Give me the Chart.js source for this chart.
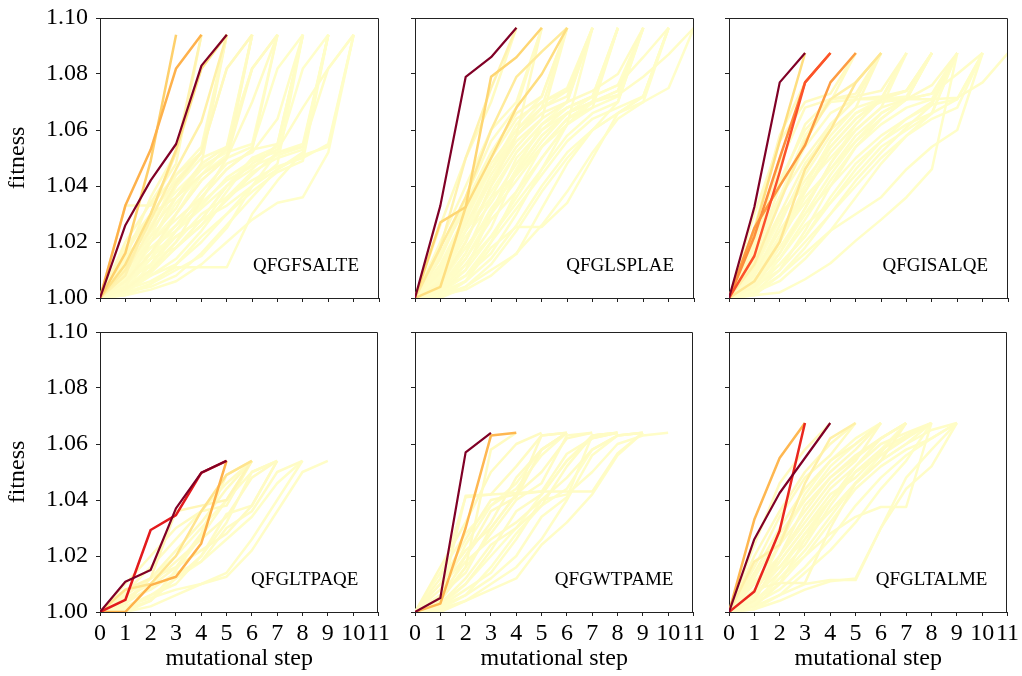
<!DOCTYPE html>
<html>
<head>
<meta charset="utf-8">
<script src="https://cdn.jsdelivr.net/npm/chart.js@4.4.1/dist/chart.umd.min.js"></script>
<style>
  html, body { margin: 0; padding: 0; background: #fff; }
  body { width: 1022px; height: 676px; position: relative; overflow: hidden; }
  .panel { position: absolute; }
</style>
</head>
<body>
<script>
// x axis steps and y ticks
const steps = [0, 1, 2, 3, 4, 5, 6, 7, 8, 9, 10, 11];
const fitnessTicks = [1.00, 1.02, 1.04, 1.06, 1.08, 1.10];
const panelLabels = ['QFGFSALTE', 'QFGLSPLAE', 'QFGISALQE', 'QFGLTPAQE', 'QFGWTPAME', 'QFGLTALME'];

// fitness along each trajectory (index = mutational step), weight = path weight
const pathsGFSALTE = [
  [1.000, 1.026, 1.042, 1.055, 1.083, 1.094],
  [1.000, 1.033, 1.053, 1.082, 1.094],
  [1.000, 1.016, 1.049, 1.094],
  [1.000, 1.012, 1.030, 1.053, 1.082, 1.094],
  [1.000, 1.010, 1.028, 1.046, 1.063, 1.094],
  [1.000, 1.008, 1.030, 1.052, 1.094],
  [1.000, 1.004, 1.010, 1.018, 1.026, 1.035, 1.044, 1.052, 1.054, 1.082, 1.094],
  [1.000, 1.002, 1.008, 1.012, 1.020, 1.030, 1.040, 1.048, 1.094],
  [1.000, 1.010, 1.020, 1.028, 1.036, 1.046, 1.053, 1.094],
  [1.000, 1.006, 1.016, 1.030, 1.042, 1.050, 1.094],
  [1.000, 1.014, 1.026, 1.040, 1.052, 1.094],
  [1.000, 1.020, 1.034, 1.048, 1.094],
  [1.000, 1.008, 1.018, 1.024, 1.032, 1.040, 1.050, 1.052, 1.055, 1.094],
  [1.000, 1.003, 1.006, 1.011, 1.011, 1.011, 1.030, 1.042, 1.052, 1.094],
  [1.000, 1.016, 1.030, 1.036, 1.044, 1.050, 1.082, 1.094],
  [1.000, 1.005, 1.014, 1.024, 1.033, 1.043, 1.049, 1.053, 1.094],
  [1.000, 1.012, 1.022, 1.032, 1.048, 1.054, 1.082, 1.094],
  [1.000, 1.002, 1.004, 1.008, 1.016, 1.026, 1.036, 1.046, 1.051, 1.054, 1.094],
  [1.000, 1.009, 1.025, 1.041, 1.052, 1.082, 1.094],
  [1.000, 1.033, 1.033, 1.044, 1.052, 1.094],
  [1.000, 1.006, 1.012, 1.022, 1.028, 1.040, 1.046, 1.055, 1.094],
  [1.000, 1.004, 1.020, 1.036, 1.046, 1.053, 1.094],
  [1.000, 1.007, 1.011, 1.020, 1.030, 1.036, 1.042, 1.047, 1.050, 1.055, 1.094],
  [1.000, 1.015, 1.024, 1.036, 1.048, 1.094],
  [1.000, 1.003, 1.010, 1.020, 1.035, 1.050, 1.070, 1.094],
  [1.000, 1.004, 1.016, 1.026, 1.038, 1.048, 1.052, 1.064, 1.094],
  [1.000, 1.011, 1.018, 1.026, 1.034, 1.042, 1.047, 1.051, 1.054, 1.094],
  [1.000, 1.001, 1.005, 1.012, 1.022, 1.030, 1.038, 1.045, 1.049, 1.094],
  [1.000, 1.002, 1.009, 1.018, 1.028, 1.040, 1.048, 1.053, 1.068, 1.082, 1.094],
  [1.000, 1.006, 1.020, 1.034, 1.044, 1.051, 1.094],
  [1.000, 1.002, 1.012, 1.024, 1.036, 1.046, 1.053, 1.055, 1.094],
  [1.000, 1.013, 1.028, 1.038, 1.047, 1.052, 1.055, 1.094],
  [1.000, 1.004, 1.008, 1.014, 1.024, 1.036, 1.045, 1.050, 1.053, 1.094],
  [1.000, 1.018, 1.030, 1.042, 1.052, 1.082, 1.094],
  [1.000, 1.001, 1.003, 1.006, 1.012, 1.020, 1.028, 1.034, 1.036, 1.052, 1.094],
  [1.000, 1.010, 1.016, 1.022, 1.028, 1.033, 1.040, 1.046, 1.052, 1.094],
  [1.000, 1.005, 1.022, 1.040, 1.050, 1.054, 1.094],
  [1.000, 1.003, 1.014, 1.030, 1.044, 1.054, 1.082, 1.094],
  [1.000, 1.008, 1.014, 1.018, 1.026, 1.038, 1.050, 1.054, 1.094],
  [1.000, 1.014, 1.036, 1.052, 1.082, 1.094],
  [1.000, 1.002, 1.005, 1.010, 1.015, 1.025, 1.040, 1.052, 1.082, 1.094],
  [1.000, 1.012, 1.020, 1.030, 1.042, 1.050, 1.054, 1.082, 1.094],
  [1.000, 1.006, 1.024, 1.044, 1.054, 1.094]
];
const weightsGFSALTE = [
  1.0, 0.38, 0.28, 0.2, 0.1, 0.08,
  0.015, 0.01, 0.02, 0.025, 0.02, 0.03, 0.01, 0.01, 0.025, 0.01, 0.02, 0.01, 0.04, 0.025, 0.015, 0.02, 0.01, 0.025, 0.02, 0.015, 0.01, 0.01, 0.015,
  0.01, 0.015, 0.01, 0.01, 0.025, 0.005, 0.01, 0.015, 0.01, 0.01, 0.02, 0.005, 0.01, 0.015
];

const pathsGLSPLAE = [
  [1.000, 1.033, 1.079, 1.086, 1.0965],
  [1.000, 1.027, 1.0325, 1.079, 1.086, 1.0965],
  [1.000, 1.004, 1.0325, 1.050, 1.068, 1.080, 1.0965],
  [1.000, 1.018, 1.036, 1.060, 1.079, 1.088, 1.0965],
  [1.000, 1.018, 1.050, 1.075, 1.0965],
  [1.000, 1.002, 1.010, 1.030, 1.050, 1.060, 1.066, 1.070, 1.0725, 1.079, 1.087, 1.0965],
  [1.000, 1.004, 1.016, 1.036, 1.052, 1.062, 1.068, 1.072, 1.076, 1.086, 1.0965],
  [1.000, 1.006, 1.020, 1.040, 1.054, 1.064, 1.070, 1.074, 1.080, 1.0965],
  [1.000, 1.003, 1.012, 1.025, 1.045, 1.058, 1.066, 1.070, 1.0965],
  [1.000, 1.010, 1.028, 1.048, 1.060, 1.068, 1.072, 1.0965],
  [1.000, 1.014, 1.034, 1.052, 1.066, 1.072, 1.0965],
  [1.000, 1.020, 1.040, 1.060, 1.070, 1.0965],
  [1.000, 1.026, 1.050, 1.070, 1.0965],
  [1.000, 1.002, 1.006, 1.018, 1.0254, 1.0254, 1.034, 1.050, 1.066, 1.072, 1.0965],
  [1.000, 1.001, 1.004, 1.010, 1.0157, 1.032, 1.048, 1.060, 1.070, 1.0965],
  [1.000, 1.008, 1.024, 1.036, 1.044, 1.056, 1.066, 1.070, 1.074, 1.0965],
  [1.000, 1.005, 1.018, 1.030, 1.042, 1.054, 1.064, 1.068, 1.0965],
  [1.000, 1.012, 1.026, 1.044, 1.058, 1.068, 1.0965],
  [1.000, 1.000, 1.006, 1.014, 1.026, 1.040, 1.052, 1.060, 1.066, 1.072, 1.0965],
  [1.000, 1.004, 1.014, 1.028, 1.038, 1.050, 1.062, 1.0965],
  [1.000, 1.016, 1.032, 1.046, 1.058, 1.066, 1.070, 1.0965],
  [1.000, 1.007, 1.022, 1.034, 1.048, 1.060, 1.068, 1.072, 1.0965],
  [1.000, 1.002, 1.012, 1.022, 1.034, 1.046, 1.058, 1.066, 1.070, 1.0965],
  [1.000, 1.009, 1.030, 1.050, 1.064, 1.070, 1.074, 1.0965],
  [1.000, 1.003, 1.008, 1.016, 1.030, 1.046, 1.062, 1.070, 1.0965],
  [1.000, 1.010, 1.026, 1.042, 1.056, 1.064, 1.0965],
  [1.000, 1.005, 1.020, 1.040, 1.058, 1.0965],
  [1.000, 1.001, 1.006, 1.020, 1.038, 1.054, 1.064, 1.070, 1.0965],
  [1.000, 1.003, 1.016, 1.032, 1.044, 1.054, 1.062, 1.068, 1.072, 1.0965],
  [1.000, 1.012, 1.030, 1.046, 1.060, 1.070, 1.075, 1.0965],
  [1.000, 1.002, 1.008, 1.020, 1.032, 1.044, 1.056, 1.064, 1.068, 1.072, 1.0965],
  [1.000, 1.006, 1.024, 1.042, 1.058, 1.068, 1.074, 1.0965],
  [1.000, 1.000, 1.004, 1.012, 1.024, 1.038, 1.050, 1.060, 1.066, 1.070, 1.0965],
  [1.000, 1.008, 1.018, 1.030, 1.046, 1.058, 1.066, 1.072, 1.0965],
  [1.000, 1.015, 1.036, 1.056, 1.068, 1.0965],
  [1.000, 1.004, 1.010, 1.022, 1.036, 1.050, 1.062, 1.070, 1.074, 1.0965],
  [1.000, 1.002, 1.014, 1.030, 1.046, 1.062, 1.070, 1.0965],
  [1.000, 1.011, 1.024, 1.038, 1.052, 1.062, 1.068, 1.072, 1.076, 1.0965],
  [1.000, 1.001, 1.003, 1.008, 1.016, 1.026, 1.038, 1.052, 1.064, 1.070, 1.075, 1.0965],
  [1.000, 1.007, 1.028, 1.046, 1.062, 1.072, 1.0965]
];
const weightsGLSPLAE = [
  1.0, 0.26, 0.22, 0.14, 0.08,
  0.015, 0.015, 0.02, 0.015, 0.02, 0.025, 0.02, 0.03, 0.01, 0.01, 0.015, 0.015, 0.02, 0.01, 0.015, 0.02, 0.015, 0.01, 0.02, 0.01, 0.02, 0.025,
  0.01, 0.01, 0.015, 0.01, 0.015, 0.005, 0.01, 0.02, 0.01, 0.01, 0.01, 0.005, 0.015
];

const pathsGISALQE = [
  [1.000, 1.0325, 1.077, 1.0875],
  [1.000, 1.015, 1.045, 1.077, 1.0875],
  [1.000, 1.022, 1.050, 1.077, 1.0875],
  [1.000, 1.025, 1.040, 1.0546, 1.077, 1.0875],
  [1.000, 1.024, 1.056, 1.0875],
  [1.000, 1.006, 1.020, 1.046, 1.060, 1.077, 1.0875],
  [1.000, 1.012, 1.034, 1.056, 1.071, 1.077, 1.0875],
  [1.000, 1.006, 1.020, 1.040, 1.056, 1.066, 1.070, 1.071, 1.071, 1.0715, 1.077, 1.0875],
  [1.000, 1.012, 1.036, 1.058, 1.070, 1.071, 1.071, 1.071, 1.073, 1.080, 1.0875],
  [1.000, 1.004, 1.016, 1.032, 1.048, 1.060, 1.068, 1.071, 1.076, 1.0875],
  [1.000, 1.008, 1.026, 1.046, 1.062, 1.071, 1.072, 1.074, 1.0875],
  [1.000, 1.014, 1.040, 1.062, 1.071, 1.072, 1.074, 1.0875],
  [1.000, 1.020, 1.048, 1.068, 1.071, 1.073, 1.0875],
  [1.000, 1.030, 1.056, 1.070, 1.073, 1.0875],
  [1.000, 1.025, 1.058, 1.077, 1.0875],
  [1.000, 1.002, 1.008, 1.016, 1.024, 1.030, 1.036, 1.046, 1.054, 1.060, 1.0875],
  [1.000, 1.001, 1.002, 1.0067, 1.0124, 1.0205, 1.028, 1.036, 1.046, 1.0875],
  [1.000, 1.005, 1.018, 1.030, 1.040, 1.050, 1.058, 1.064, 1.070, 1.0875],
  [1.000, 1.009, 1.024, 1.038, 1.052, 1.062, 1.071, 1.0875],
  [1.000, 1.003, 1.012, 1.022, 1.036, 1.048, 1.056, 1.062, 1.066, 1.0875],
  [1.000, 1.016, 1.028, 1.042, 1.054, 1.064, 1.071, 1.074, 1.0875],
  [1.000, 1.007, 1.014, 1.026, 1.034, 1.044, 1.054, 1.060, 1.066, 1.071, 1.0875],
  [1.000, 1.011, 1.030, 1.048, 1.060, 1.068, 1.0875],
  [1.000, 1.004, 1.010, 1.020, 1.030, 1.042, 1.052, 1.061, 1.069, 1.0875],
  [1.000, 1.018, 1.036, 1.050, 1.062, 1.071, 1.0875],
  [1.000, 1.006, 1.022, 1.034, 1.046, 1.056, 1.064, 1.071, 1.0875],
  [1.000, 1.002, 1.010, 1.024, 1.040, 1.054, 1.064, 1.071, 1.0875],
  [1.000, 1.012, 1.020, 1.036, 1.046, 1.058, 1.066, 1.071, 1.073, 1.0875],
  [1.000, 1.008, 1.022, 1.040, 1.056, 1.066, 1.071, 1.072, 1.0875],
  [1.000, 1.003, 1.014, 1.028, 1.042, 1.054, 1.062, 1.068, 1.071, 1.0875],
  [1.000, 1.016, 1.036, 1.054, 1.066, 1.071, 1.0875],
  [1.000, 1.005, 1.012, 1.022, 1.034, 1.046, 1.056, 1.064, 1.069, 1.071, 1.0875],
  [1.000, 1.010, 1.028, 1.044, 1.058, 1.068, 1.071, 1.0875],
  [1.000, 1.002, 1.006, 1.014, 1.024, 1.036, 1.048, 1.058, 1.066, 1.0875],
  [1.000, 1.020, 1.042, 1.060, 1.070, 1.0875],
  [1.000, 1.006, 1.016, 1.030, 1.044, 1.056, 1.066, 1.071, 1.0875],
  [1.000, 1.013, 1.030, 1.040, 1.050, 1.060, 1.068, 1.0875],
  [1.000, 1.001, 1.008, 1.018, 1.030, 1.040, 1.050, 1.058, 1.064, 1.068, 1.0875],
  [1.000, 1.009, 1.018, 1.032, 1.048, 1.062, 1.071, 1.0875],
  [1.000, 1.004, 1.020, 1.038, 1.054, 1.064, 1.071, 1.074, 1.0875]
];
const weightsGISALQE = [
  1.0, 0.62, 0.5, 0.45, 0.22, 0.16, 0.1,
  0.015, 0.015, 0.02, 0.02, 0.025, 0.025, 0.03, 0.04, 0.01, 0.01, 0.015, 0.02, 0.01, 0.02, 0.01, 0.025, 0.015, 0.025, 0.015, 0.015, 0.015,
  0.01, 0.01, 0.015, 0.01, 0.015, 0.005, 0.02, 0.01, 0.015, 0.005, 0.01, 0.015
];

const pathsGLTPAQE = [
  [1.000, 1.0108, 1.015, 1.037, 1.0497, 1.054],
  [1.000, 1.0043, 1.0293, 1.0346, 1.0497, 1.054],
  [1.000, 1.000, 1.0096, 1.0126, 1.0245, 1.054],
  [1.000, 1.008, 1.010, 1.020, 1.036, 1.049, 1.054],
  [1.000, 1.008, 1.012, 1.036, 1.038, 1.040, 1.054],
  [1.000, 1.003, 1.009, 1.016, 1.028, 1.049, 1.054],
  [1.000, 1.001, 1.004, 1.012, 1.020, 1.032, 1.050, 1.054],
  [1.000, 1.006, 1.012, 1.016, 1.022, 1.028, 1.038, 1.054],
  [1.000, 1.000, 1.002, 1.006, 1.010, 1.014, 1.026, 1.040, 1.054],
  [1.000, 1.004, 1.008, 1.014, 1.018, 1.030, 1.036, 1.050, 1.054],
  [1.000, 1.002, 1.005, 1.008, 1.010, 1.0126, 1.022, 1.036, 1.050, 1.054],
  [1.000, 1.010, 1.020, 1.030, 1.036, 1.038, 1.054],
  [1.000, 1.002, 1.006, 1.010, 1.020, 1.035, 1.038, 1.054],
  [1.000, 1.005, 1.010, 1.018, 1.026, 1.034, 1.048, 1.054],
  [1.000, 1.003, 1.012, 1.022, 1.032, 1.044, 1.054],
  [1.000, 1.000, 1.004, 1.015, 1.027, 1.040, 1.050, 1.054],
  [1.000, 1.004, 1.012, 1.020, 1.030, 1.040, 1.054],
  [1.000, 1.001, 1.006, 1.012, 1.018, 1.026, 1.034, 1.046, 1.054],
  [1.000, 1.007, 1.016, 1.026, 1.036, 1.046, 1.054]
];
const weightsGLTPAQE = [
  1.0, 0.75, 0.38, 0.18,
  0.06, 0.025, 0.02, 0.025, 0.015, 0.02, 0.015, 0.03, 0.02, 0.025, 0.03, 0.02,
  0.015, 0.01, 0.02
];

const pathsGWTPAME = [
  [1.000, 1.005, 1.057, 1.064],
  [1.000, 1.003, 1.030, 1.063, 1.064],
  [1.000, 1.004, 1.016, 1.058, 1.064],
  [1.000, 1.004, 1.0415, 1.042, 1.0425, 1.043, 1.043, 1.043, 1.0566, 1.064],
  [1.000, 1.006, 1.014, 1.030, 1.042, 1.043, 1.0565, 1.062, 1.064],
  [1.000, 1.010, 1.026, 1.040, 1.042, 1.050, 1.062, 1.064],
  [1.000, 1.004, 1.020, 1.032, 1.048, 1.058, 1.064],
  [1.000, 1.016, 1.032, 1.050, 1.060, 1.064],
  [1.000, 1.002, 1.008, 1.014, 1.026, 1.040, 1.042, 1.050, 1.060, 1.063, 1.064],
  [1.000, 1.001, 1.004, 1.010, 1.016, 1.026, 1.040, 1.056, 1.063, 1.064],
  [1.000, 1.003, 1.010, 1.022, 1.036, 1.042, 1.054, 1.063, 1.064],
  [1.000, 1.005, 1.016, 1.028, 1.040, 1.046, 1.063, 1.064],
  [1.000, 1.002, 1.006, 1.012, 1.020, 1.034, 1.041, 1.063, 1.064],
  [1.000, 1.008, 1.020, 1.036, 1.041, 1.058, 1.064],
  [1.000, 1.000, 1.004, 1.008, 1.012, 1.024, 1.032, 1.042, 1.056, 1.064],
  [1.000, 1.012, 1.041, 1.042, 1.052, 1.063, 1.064],
  [1.000, 1.006, 1.018, 1.026, 1.032, 1.040, 1.048, 1.058, 1.063, 1.064],
  [1.000, 1.003, 1.012, 1.024, 1.030, 1.038, 1.052, 1.063, 1.064],
  [1.000, 1.010, 1.022, 1.030, 1.042, 1.063, 1.064],
  [1.000, 1.002, 1.010, 1.020, 1.030, 1.042, 1.054, 1.062, 1.064],
  [1.000, 1.006, 1.024, 1.038, 1.046, 1.058, 1.064],
  [1.000, 1.001, 1.006, 1.016, 1.028, 1.038, 1.044, 1.058, 1.063, 1.064],
  [1.000, 1.014, 1.028, 1.038, 1.044, 1.056, 1.064]
];
const weightsGWTPAME = [
  1.0, 0.36,
  0.03, 0.02, 0.02, 0.025, 0.025, 0.03, 0.015, 0.015, 0.02, 0.02, 0.015, 0.025, 0.015, 0.025, 0.02, 0.02, 0.025,
  0.01, 0.015, 0.01, 0.015
];

const pathsGLTALME = [
  [1.000, 1.026, 1.0425, 1.055, 1.0675],
  [1.000, 1.0073, 1.029, 1.0675],
  [1.000, 1.033, 1.055, 1.0675],
  [1.000, 1.018, 1.024, 1.046, 1.062, 1.0675],
  [1.000, 1.004, 1.010, 1.020, 1.032, 1.044, 1.052, 1.058, 1.062, 1.0675],
  [1.000, 1.006, 1.016, 1.028, 1.040, 1.050, 1.056, 1.062, 1.0675],
  [1.000, 1.010, 1.024, 1.036, 1.048, 1.056, 1.062, 1.0675],
  [1.000, 1.014, 1.030, 1.044, 1.054, 1.060, 1.0675],
  [1.000, 1.020, 1.036, 1.050, 1.060, 1.0675],
  [1.000, 1.024, 1.046, 1.058, 1.0675],
  [1.000, 1.002, 1.006, 1.010, 1.0114, 1.0114, 1.030, 1.044, 1.052, 1.0675],
  [1.000, 1.001, 1.004, 1.008, 1.011, 1.012, 1.030, 1.048, 1.058, 1.0675],
  [1.000, 1.008, 1.0104, 1.0104, 1.030, 1.046, 1.054, 1.0675],
  [1.000, 1.005, 1.018, 1.030, 1.042, 1.048, 1.057, 1.0675],
  [1.000, 1.012, 1.028, 1.040, 1.050, 1.058, 1.0675],
  [1.000, 1.003, 1.012, 1.022, 1.034, 1.046, 1.054, 1.060, 1.0675],
  [1.000, 1.007, 1.020, 1.034, 1.046, 1.054, 1.0675],
  [1.000, 1.004, 1.012, 1.020, 1.028, 1.034, 1.0375, 1.0375, 1.0675],
  [1.000, 1.010, 1.020, 1.032, 1.044, 1.052, 1.060, 1.064, 1.0675],
  [1.000, 1.016, 1.034, 1.048, 1.056, 1.0675],
  [1.000, 1.006, 1.014, 1.024, 1.038, 1.050, 1.058, 1.063, 1.0675],
  [1.000, 1.002, 1.010, 1.026, 1.040, 1.052, 1.062, 1.0675],
  [1.000, 1.004, 1.020, 1.038, 1.048, 1.055, 1.062, 1.0675],
  [1.000, 1.011, 1.016, 1.026, 1.036, 1.046, 1.054, 1.060, 1.065, 1.0675],
  [1.000, 1.008, 1.018, 1.030, 1.040, 1.050, 1.058, 1.0675],
  [1.000, 1.003, 1.008, 1.016, 1.026, 1.038, 1.048, 1.056, 1.062, 1.0675],
  [1.000, 1.013, 1.026, 1.040, 1.052, 1.060, 1.0675],
  [1.000, 1.001, 1.006, 1.014, 1.022, 1.032, 1.044, 1.054, 1.0675],
  [1.000, 1.006, 1.024, 1.042, 1.054, 1.062, 1.0675],
  [1.000, 1.002, 1.014, 1.028, 1.036, 1.046, 1.056, 1.063, 1.0675]
];
const weightsGLTALME = [
  1.0, 0.72, 0.36, 0.1,
  0.015, 0.02, 0.025, 0.03, 0.035, 0.035, 0.015, 0.015, 0.025, 0.02, 0.025, 0.015, 0.025, 0.015, 0.02, 0.03, 0.02, 0.02, 0.025, 0.015,
  0.01, 0.01, 0.015, 0.01, 0.015, 0.01
];

const panelPaths = [pathsGFSALTE, pathsGLSPLAE, pathsGISALQE, pathsGLTPAQE, pathsGWTPAME, pathsGLTALME];
const panelWeights = [weightsGFSALTE, weightsGLSPLAE, weightsGISALQE, weightsGLTPAQE, weightsGWTPAME, weightsGLTALME];

// YlOrRd colour map
const cmapStops = ['#ffffcc', '#ffeda0', '#fed976', '#feb24c', '#fd8d3c', '#fc4e2a', '#e31a1c', '#bd0026', '#800026'];
function hexRgb(h) {
  return [parseInt(h.slice(1, 3), 16), parseInt(h.slice(3, 5), 16), parseInt(h.slice(5, 7), 16)];
}
function ylOrRd(w) {
  const t = Math.max(0, Math.min(1, w || 0)) * (cmapStops.length - 1);
  const i = Math.min(Math.floor(t), cmapStops.length - 2);
  const f = t - i;
  const a = hexRgb(cmapStops[i]), b = hexRgb(cmapStops[i + 1]);
  const c = a.map((v, k) => Math.round(v + (b[k] - v) * f));
  return 'rgb(' + c.join(',') + ')';
}

const serif = '"Liberation Serif", "Times New Roman", serif';

// frame on top/right + panel name
const panelDeco = {
  id: 'panelDeco',
  afterDatasetsDraw(chart, args, opts) {
    const {ctx, chartArea: a} = chart;
    ctx.save();
    ctx.fillStyle = '#000';
    ctx.font = '19px ' + serif;
    ctx.textAlign = 'right';
    ctx.textBaseline = 'alphabetic';
    ctx.fillText(opts.label, a.right - 20, a.bottom - 27);
    ctx.restore();
  },
  afterDraw(chart) {
    const {ctx, chartArea: a} = chart;
    ctx.save();
    ctx.strokeStyle = '#222';
    ctx.lineWidth = 1;
    ctx.beginPath();
    const t = Math.round(a.top) + 0.5, r = Math.round(a.right) - 0.5;
    ctx.moveTo(a.left, t);
    ctx.lineTo(r, t);
    ctx.lineTo(r, a.bottom);
    ctx.stroke();
    ctx.restore();
  }
};

const plotLefts = [100, 415, 729];
const plotTops = [18, 332];
const plotW = 279, plotH = 280;

function makePanel(idx) {
  const row = Math.floor(idx / 3), col = idx % 3;
  const yw = col === 0 ? 100 : 10;
  const padTop = 24;
  const xh = row === 0 ? 24 : 64;
  const padRight = 14;
  const w = yw + plotW + padRight;
  const h = padTop + plotH + xh;

  const canvas = document.createElement('canvas');
  canvas.className = 'panel';
  canvas.width = w;
  canvas.height = h;
  canvas.style.left = (plotLefts[col] - yw) + 'px';
  canvas.style.top = (plotTops[row] - padTop) + 'px';
  canvas.style.width = w + 'px';
  canvas.style.height = h + 'px';
  document.body.appendChild(canvas);

  const paths = panelPaths[idx];
  const weights = panelWeights[idx];
  const datasets = paths.map((p, k) => ({
    data: p.map((v, i) => ({x: steps[i], y: v})),
    borderColor: ylOrRd(weights[k]),
    borderWidth: weights[k] > 0.9 ? 2.2 : 2.5,
    borderJoinStyle: 'round',
    pointRadius: 0,
    fill: false,
    tension: 0,
    order: Math.round((1 - (weights[k] || 0)) * 1000)
  }));

  new Chart(canvas, {
    type: 'line',
    data: {datasets: datasets},
    options: {
      responsive: false,
      animation: false,
      events: [],
      layout: {padding: {top: padTop, right: padRight, left: 0, bottom: 0}},
      plugins: {
        legend: {display: false},
        tooltip: {enabled: false},
        panelDeco: {label: panelLabels[idx]}
      },
      scales: {
        x: {
          type: 'linear',
          min: 0,
          max: 11,
          afterBuildTicks: s => { s.ticks = steps.map(v => ({value: v})); },
          afterFit: s => { s.height = xh; },
          grid: {drawOnChartArea: false, drawTicks: true, tickLength: 4, color: '#222'},
          border: {display: true, color: '#222', width: 1},
          ticks: {
            display: row === 1,
            autoSkip: false,
            maxRotation: 0,
            padding: 3,
            color: '#000',
            font: {family: serif, size: 24}
          },
          title: {
            display: row === 1,
            text: 'mutational step',
            color: '#000',
            padding: {top: 0, bottom: 3},
            font: {family: serif, size: 24}
          }
        },
        y: {
          type: 'linear',
          min: 1.0,
          max: 1.1,
          afterBuildTicks: s => { s.ticks = fitnessTicks.map(v => ({value: v})); },
          afterFit: s => { s.width = yw; },
          grid: {drawOnChartArea: false, drawTicks: true, tickLength: 4, color: '#222'},
          border: {display: true, color: '#222', width: 1},
          ticks: {
            display: col === 0,
            padding: 8,
            color: '#000',
            font: {family: serif, size: 24},
            callback: v => v.toFixed(2)
          },
          title: {
            display: col === 0,
            text: 'fitness',
            color: '#000',
            padding: {top: 3, bottom: 0},
            font: {family: serif, size: 24}
          }
        }
      }
    },
    plugins: [panelDeco]
  });
}

for (let i = 0; i < 6; i++) makePanel(i);
</script>
</body>
</html>
